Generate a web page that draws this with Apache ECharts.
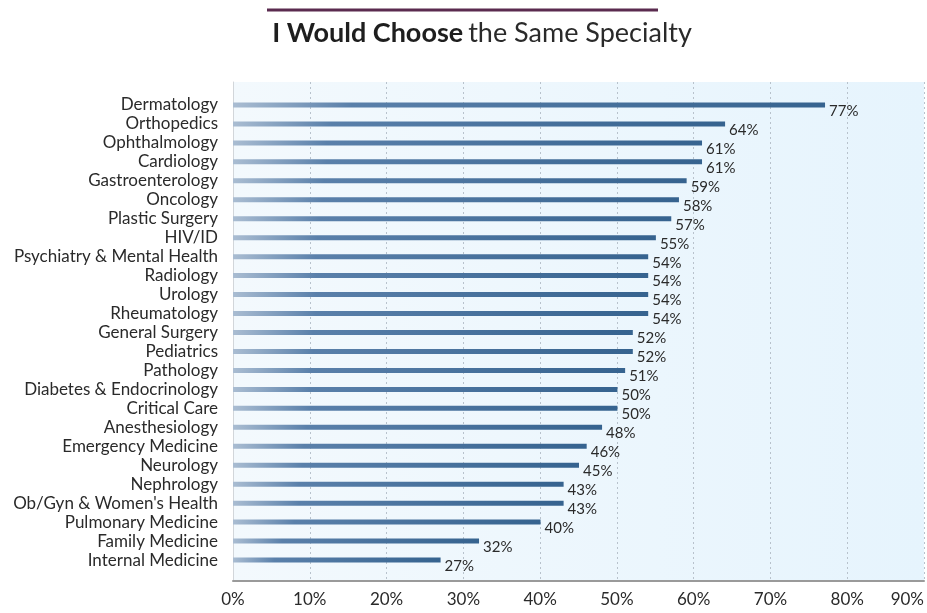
<!DOCTYPE html>
<html>
<head>
<meta charset="utf-8">
<script src="https://cdn.jsdelivr.net/npm/echarts@6/dist/echarts.min.js"></script>
<style>
  html, body { margin: 0; padding: 0; background: #ffffff; }
  #chart { width: 927px; height: 613px; }
</style>
</head>
<body>
<div id="chart"></div>
<script>
// Specialties, listed top to bottom
const specialties = [
  'Dermatology', 'Orthopedics', 'Ophthalmology', 'Cardiology', 'Gastroenterology',
  'Oncology', 'Plastic Surgery', 'HIV/ID', 'Psychiatry & Mental Health', 'Radiology',
  'Urology', 'Rheumatology', 'General Surgery', 'Pediatrics', 'Pathology',
  'Diabetes & Endocrinology', 'Critical Care', 'Anesthesiology', 'Emergency Medicine',
  'Neurology', 'Nephrology', "Ob/Gyn & Women's Health", 'Pulmonary Medicine',
  'Family Medicine', 'Internal Medicine'
];

// Share (%) who would choose the same specialty again
const sameSpecialty = [
  77, 64, 61, 61, 59,
  58, 57, 55, 54, 54,
  54, 54, 52, 52, 51,
  50, 50, 48, 46,
  45, 43, 43, 40,
  32, 27
];

// Percentage axis ticks
const axisMin = 0;
const axisMax = 90;
const axisStep = 10;

const FONT = 'Lato, "Open Sans", sans-serif';
const chart = echarts.init(document.getElementById('chart'));

const barColor = new echarts.graphic.LinearGradient(0, 0, 1, 0, [
  { offset: 0, color: '#aabdd2' },
  { offset: 0.2, color: '#5a80aa' },
  { offset: 1, color: '#36638f' }
]);

chart.setOption({
  animation: false,
  title: {
    text: '{b|I Would Choose} {n|the Same Specialty}',
    left: 477,
    top: 15,
    textAlign: 'center',
    textStyle: {
      rich: {
        b: { fontFamily: FONT, fontSize: 27, fontWeight: 'bold', color: '#1e1e1e' },
        n: { fontFamily: FONT, fontSize: 27, fontWeight: 'normal', color: '#2a2a2a' }
      }
    }
  },
  graphic: [{
    type: 'line',
    shape: { x1: 267, y1: 10, x2: 658, y2: 10 },
    style: { stroke: '#5a2b4f', lineWidth: 3 }
  }],
  grid: [
    // plot frame with background, gridlines and percentage axis
    {
      left: 233, right: 2, top: 82, bottom: 32,
      show: true,
      borderWidth: 0,
      backgroundColor: new echarts.graphic.LinearGradient(0, 0, 1, 0, [
        { offset: 0, color: '#f3f9fd' },
        { offset: 1, color: '#e6f4fd' }
      ])
    },
    // bar rows
    { left: 233, right: 2, top: 95.5, height: 474 }
  ],
  xAxis: [
    {
      gridIndex: 0,
      type: 'value',
      min: axisMin, max: axisMax, interval: axisStep,
      axisLine: { show: true, lineStyle: { color: '#9a9a9a', width: 2 } },
      axisTick: { show: false },
      axisLabel: {
        formatter: '{value}%',
        fontFamily: FONT, fontSize: 17, color: '#2a2a2a',
        margin: 10,
        alignMaxLabel: 'right'
      },
      splitLine: {
        show: true,
        lineStyle: { color: '#b8c2cc', type: [2, 3], width: 1 }
      }
    },
    {
      gridIndex: 1,
      type: 'value',
      min: axisMin, max: axisMax, interval: axisStep,
      show: false
    }
  ],
  yAxis: [
    {
      gridIndex: 0,
      type: 'value',
      min: 0, max: 1,
      axisLine: { show: true, lineStyle: { color: '#d2d6da', width: 1 } },
      axisTick: { show: false },
      axisLabel: { show: false },
      splitLine: { show: false }
    },
    {
      gridIndex: 1,
      type: 'category',
      data: specialties,
      inverse: true,
      axisLine: { show: false },
      axisTick: { show: false },
      axisLabel: {
        interval: 0,
        fontFamily: FONT, fontSize: 17, color: '#2a2a2a',
        margin: 15
      }
    }
  ],
  series: [{
    type: 'bar',
    xAxisIndex: 1,
    yAxisIndex: 1,
    data: sameSpecialty,
    barWidth: 5,
    itemStyle: { color: barColor },
    label: {
      show: true,
      position: 'right',
      distance: 4,
      offset: [0, 6],
      formatter: '{c}%',
      fontFamily: FONT, fontSize: 15, color: '#2a2a2a'
    }
  }]
});
</script>
</body>
</html>
